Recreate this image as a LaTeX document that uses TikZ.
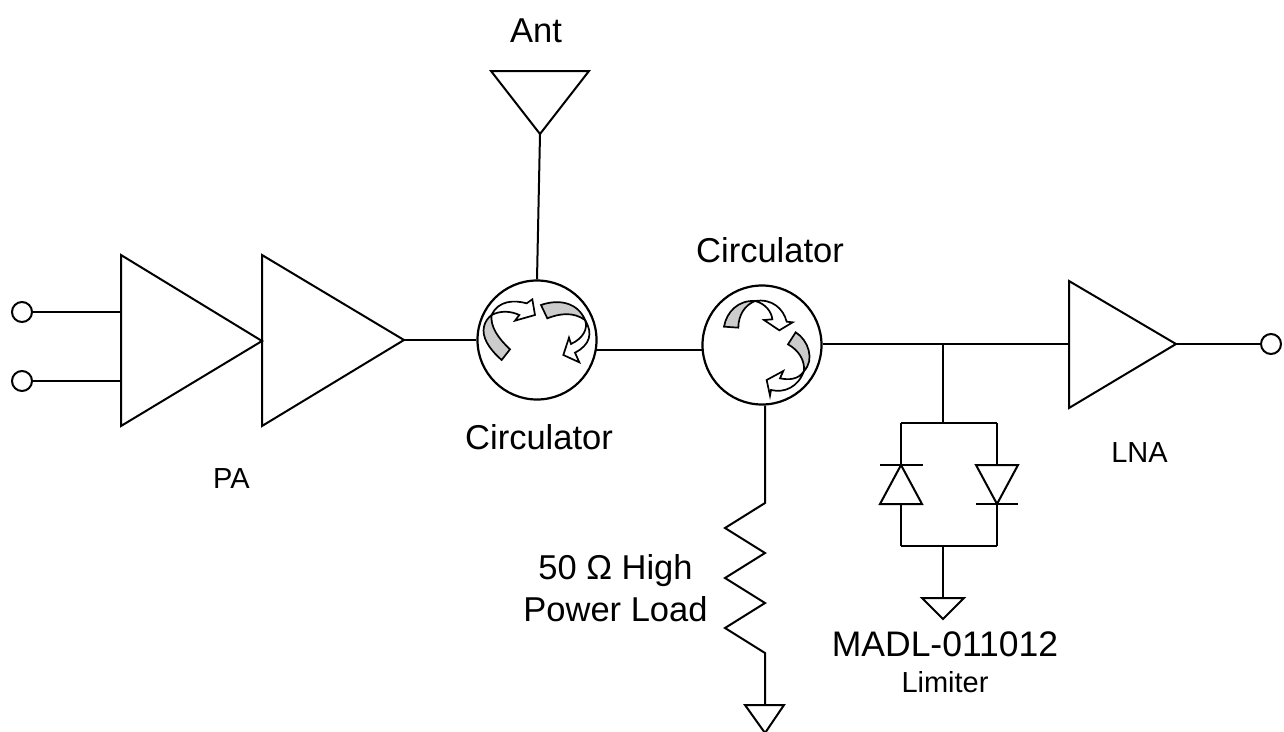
\documentclass[tikz,border=0pt]{standalone}
\usepackage{fontspec}
\setmainfont{Liberation Sans}
\tikzset{
  wire/.style={draw=black,line width=2pt,line join=miter},
  port/.style={circle,draw=black,line width=2pt,fill=white,inner sep=0pt,minimum size=20pt},
  circ/.style={circle,draw=black,line width=2.2pt,fill=white,inner sep=0pt,minimum size=119pt},
  big/.style={font=\fontsize{34.5}{40}\selectfont,anchor=base,inner sep=0pt},
  small/.style={font=\fontsize{29}{32}\selectfont,anchor=base,inner sep=0pt},
  graypart/.style={draw=black,line width=1.7pt,fill=black!20,line join=miter},
  whitepart/.style={draw=black,line width=1.7pt,fill=white,line join=miter}
}
\begin{document}
\begin{tikzpicture}[x=1pt,y=-1pt]
\useasboundingbox (0,0) rectangle (1284,731);
% circles
\node[port] (p1) at (22,312) {};
\node[port] (p2) at (22,381) {};
\node[port] (p3) at (1271,344) {};
\node[circ] (c1) at (537,340) {};
\node[circ] (c2) at (762,345) {};
% amplifier vertices
\coordinate (a1t) at (121,255); \coordinate (a1b) at (121,426); \coordinate (a1o) at (262,341);
\coordinate (a1i) at (121,312);
\coordinate (a2t) at (262,255); \coordinate (a2b) at (262,426); \coordinate (a2o) at (404,340);
\coordinate (lt) at (1069,281); \coordinate (lb) at (1069,408); \coordinate (lo) at (1176,344);
\coordinate (li) at (1069,344);
\coordinate (at1) at (491,71); \coordinate (at2) at (589,71); \coordinate (ato) at (540,134);
\draw[wire] (a1t) -- (a1o) -- (a1b) -- cycle;
\draw[wire] (a2t) -- (a2o) -- (a2b) -- cycle;
\draw[wire] (lt) -- (lo) -- (lb) -- cycle;
\draw[wire] (at1) -- (at2) -- (ato) -- cycle;
% connectors
\draw[wire] (p1.east) -- (p1.east -| a1i);
\draw[wire] (p2.east) -- (p2.east -| a1i);
\draw[wire] (a2o) -- (c1.west |- a2o);
\draw[wire] (ato) -- (c1.north);
\coordinate (c1r) at (596,350); \coordinate (c2l) at (702,350);
\draw[wire] (c1r) -- (c2l);
\draw[wire] (c2.east |- li) -- (li);
\draw[wire] (lo) -- (p3.west);
% limiter
\coordinate (jn) at (943,344);
\coordinate (lt1) at (901,423); \coordinate (lt2) at (997,423); \coordinate (ltm) at (943,423);
\coordinate (lb1) at (901,546); \coordinate (lb2) at (997,546); \coordinate (lbm) at (943,546);
\draw[wire] (jn) -- (ltm);
\draw[wire] (lt1) -- (lt2);
\draw[wire] (lb1) -- (lb2);
\coordinate (d1a) at (901,465); \coordinate (d1b) at (901,504);
\coordinate (d2a) at (997,465); \coordinate (d2b) at (997,504);
\draw[wire] (lt1) -- (d1a);
\draw[wire] (d1b) -- (lb1);
\draw[wire] (lt2) -- (d2a);
\draw[wire] (d2b) -- (lb2);
\draw[wire] (880,465) -- (923,465);
\draw[wire] (d1a) -- (922,504) -- (880,504) -- cycle;
\draw[wire] (976,465) -- (1018,465) -- (d2b) -- cycle;
\draw[wire] (976,504) -- (1018,504);
\coordinate (g1) at (943,598);
\draw[wire] (lbm) -- (g1);
\draw[wire] (922,598) -- (964,598) -- (943,619) -- cycle;
% resistor
\coordinate (rt) at (765,503); \coordinate (rb) at (765,653); \coordinate (g2) at (765,705);
\draw[wire] (c2.south -| rt) -- (rt) -- (725,528) -- (765,553) -- (725,578) -- (765,603) -- (725,628) -- (rb) -- (g2);
\draw[wire] (745,705) -- (784,705) -- (765,733) -- cycle;
% circulator arrows, circulator 1
\begin{scope}[shift={(460,270)},x=0.3333pt,y=-0.3333pt]
\draw[graypart] (125,270) .. controls (85,235) and (65,200) .. (72,170) .. controls (75,155) and (85,142) .. (95,135) .. controls (90,170) and (115,205) .. (150,238) -- cycle;
\draw[whitepart] (95,135) .. controls (115,90) and (165,90) .. (200,100) -- (217,88) -- (225,135) -- (165,152) -- (178,135) .. controls (150,122) and (120,122) .. (95,135) -- cycle;
\draw[graypart] (243,105) .. controls (300,85) and (355,100) .. (375,150) .. controls (340,125) and (300,130) .. (262,145) -- cycle;
\draw[whitepart] (375,150) .. controls (400,190) and (390,225) .. (345,248) -- (358,277) -- (310,255) -- (327,203) -- (333,222) .. controls (370,205) and (385,175) .. (375,150) -- cycle;
\end{scope}
% circulator 2
\begin{scope}[shift={(690,285)},x=0.3333pt,y=-0.3333pt]
\draw[graypart] (102,125) .. controls (110,80) and (145,45) .. (195,48) .. controls (165,60) and (145,90) .. (145,128) -- cycle;
\draw[whitepart] (195,48) .. controls (245,40) and (280,70) .. (290,110) -- (308,112) -- (268,136) -- (222,105) -- (247,103) .. controls (245,80) and (225,55) .. (195,48) -- cycle;
\draw[graypart] (317,142) .. controls (355,165) and (375,225) .. (342,258) .. controls (345,225) and (325,195) .. (294,178) -- cycle;
\draw[whitepart] (342,258) .. controls (325,305) and (285,325) .. (243,315) -- (240,332) -- (230,285) -- (280,258) -- (270,280) .. controls (295,285) and (325,285) .. (342,258) -- cycle;
\end{scope}
% labels
\node[big] (tAnt) at (536,42) {Ant};
\node[big] (tC1) at (539,449) {Circulator};
\node[big] (tC2) at (770,262) {Circulator};
\node[small] (tPA) at (231.5,488) {PA};
\node[small] (tLNA) at (1139.5,462) {LNA};
\node[big] (tR1) at (615.5,579) {50 Ω High};
\node[big] (tR2) at (615.5,621) {Power Load};
\node[big,font=\fontsize{35.5}{40}\selectfont] (tM) at (945,656) {MADL-011012};
\node[small] (tL) at (945,692.5) {Limiter};
\end{tikzpicture}
\end{document}
